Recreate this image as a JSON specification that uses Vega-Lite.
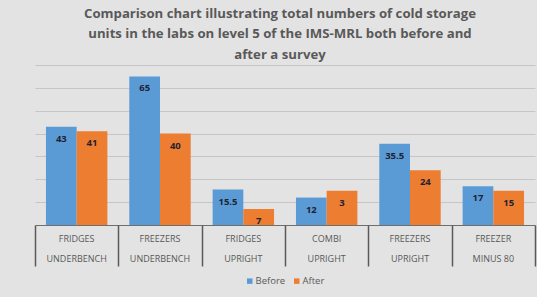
{
  "$schema": "https://vega.github.io/schema/vega-lite/v6.json",
  "width": 500,
  "height": 160,
  "autosize": "none",
  "padding": {"left": 35, "top": 65, "right": 2, "bottom": 72},
  "background": "#e3e3e3",
  "title": {
    "text": ["Comparison chart illustrating total numbers of cold storage", "units in the labs on level 5 of the IMS-MRL both before and", "after a survey"],
    "font": "Open Sans",
    "fontSize": 13.2,
    "fontWeight": "bold",
    "color": "#595959",
    "lineHeight": 20.5,
    "anchor": "middle",
    "dx": -5,
    "offset": 3
  },
  "data": {
    "values": [
      {"category": "FRIDGES UNDERBENCH", "period": "Before", "value": 43, "label": "43"},
      {"category": "FRIDGES UNDERBENCH", "period": "After", "value": 41, "label": "41"},
      {"category": "FREEZERS UNDERBENCH", "period": "Before", "value": 65, "label": "65"},
      {"category": "FREEZERS UNDERBENCH", "period": "After", "value": 40, "label": "40"},
      {"category": "FRIDGES UPRIGHT", "period": "Before", "value": 15.5, "label": "15.5"},
      {"category": "FRIDGES UPRIGHT", "period": "After", "value": 7, "label": "7"},
      {"category": "COMBI UPRIGHT", "period": "Before", "value": 12, "label": "12"},
      {"category": "COMBI UPRIGHT", "period": "After", "value": 15, "label": "3"},
      {"category": "FREEZERS UPRIGHT", "period": "Before", "value": 35.5, "label": "35.5"},
      {"category": "FREEZERS UPRIGHT", "period": "After", "value": 24, "label": "24"},
      {"category": "FREEZER MINUS 80", "period": "Before", "value": 17, "label": "17"},
      {"category": "FREEZER MINUS 80", "period": "After", "value": 15, "label": "15"}
    ]
  },
  "layer": [
    {
      "encoding": {
        "x": {
          "field": "category", "type": "nominal", "sort": null,
          "scale": {"paddingInner": 0, "paddingOuter": 0},
          "axis": {
            "title": null, "ticks": false, "domain": true, "domainColor": "#6e6e6e", "domainWidth": 1.2,
            "labelAngle": 0, "labelFont": "Open Sans", "labelFontSize": 9, "labelColor": "#595959",
            "labelPadding": 9, "labelLineHeight": 20,
            "labelExpr": "[substring(datum.label, 0, indexof(datum.label, ' ')), substring(datum.label, indexof(datum.label, ' ') + 1)]"
          }
        },
        "xOffset": {
          "field": "period", "type": "nominal", "sort": ["Before", "After"],
          "scale": {"paddingInner": 0, "paddingOuter": 0.357}
        },
        "y": {
          "field": "value", "type": "quantitative",
          "scale": {"domain": [0, 70], "nice": false},
          "axis": {"title": null, "labels": false, "ticks": false, "domain": false, "grid": true, "values": [10, 20, 30, 40, 50, 60, 70], "gridColor": "#c6c6c6", "gridWidth": 1, "minExtent": 0}
        }
      },
      "layer": [
        {
          "mark": {"type": "bar"},
          "encoding": {
            "color": {
              "field": "period", "type": "nominal",
              "scale": {"domain": ["Before", "After"], "range": ["#5B9BD5", "#ED7D31"]},
              "legend": {
                "title": null, "orient": "none", "legendX": 210, "legendY": 211, "direction": "horizontal", "symbolType": "square", "symbolSize": 30,
                "labelFont": "Open Sans", "labelFontSize": 9.5, "labelColor": "#595959",
                "columnPadding": 6, "symbolOffset": 0, "labelOffset": 1
              }
            }
          }
        },
        {
          "mark": {"type": "text", "font": "Open Sans", "fontSize": 9.5, "fontWeight": "bold", "color": "#1f2233", "baseline": "middle", "dy": 12},
          "encoding": {
            "text": {"field": "label"}
          }
        }
      ]
    },
    {
      "mark": {"type": "rule", "opacity": 0},
      "encoding": {
        "x": {
          "datum": 0, "type": "quantitative",
          "scale": {"domain": [0, 6], "nice": false, "zero": false},
          "axis": {"orient": "bottom", "values": [0, 1, 2, 3, 4, 5, 6], "labels": false, "domain": false, "grid": false, "ticks": true, "tickSize": 41, "tickColor": "#595959", "tickWidth": 1.5, "title": null}
        }
      }
    }
  ],
  "resolve": {"scale": {"x": "independent"}, "axis": {"x": "independent"}},
  "config": {"view": {"stroke": null}}
}
